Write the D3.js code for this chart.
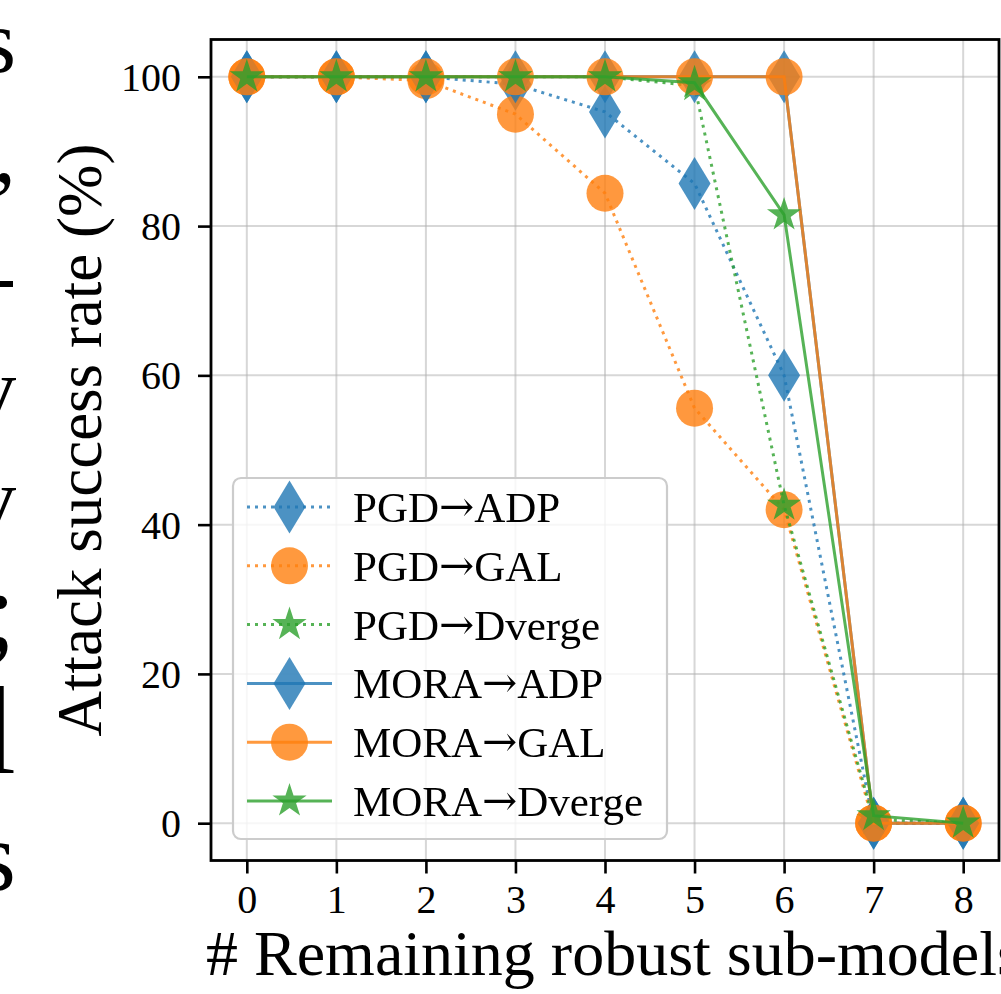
<!DOCTYPE html>
<html>
<head>
<meta charset="utf-8">
<script src="https://cdn.jsdelivr.net/npm/d3@7"></script>
<style>
  html, body { margin: 0; padding: 0; background: #fff; }
  svg { display: block; }
  text { font-family: "Liberation Serif", "DejaVu Serif", serif; }
</style>
</head>
<body>
<svg id="chart" width="1001" height="994"></svg>
<script>
// ---- data ----
const xValues = [0, 1, 2, 3, 4, 5, 6, 7, 8];
const pgdADP     = [100, 100, 100, 99, 95.3, 85.7, 60, 0, 0];
const pgdGAL     = [100, 100, 99.5, 95, 84.4, 55.6, 42, 0, 0];
const pgdDverge  = [100, 100, 100, 100, 100, 98.8, 42.6, 0.5, 0];
const moraADP    = [100, 100, 100, 100, 100, 100, 100, 0, 0];
const moraGAL    = [100, 100, 100, 100, 100, 100, 100, 0, 0];
const moraDverge = [100, 100, 100, 100, 100, 99.2, 81.5, 1, 0];
const attackNames = ["PGD", "PGD", "PGD", "MORA", "MORA", "MORA"];
const targetNames = ["ADP", "GAL", "Dverge", "ADP", "GAL", "Dverge"];
const xTicks = [0, 1, 2, 3, 4, 5, 6, 7, 8];
const yTicks = [0, 20, 40, 60, 80, 100];
const xLabel = "# Remaining robust sub-models";
const yLabel = "Attack success rate (%)";
const sideFragments = [
  { t: "s", y: 72, fs: 92 },
  { t: ",", y: 182, fs: 90 },
  { t: "-", y: 303, fs: 80 },
  { t: "v", y: 417, fs: 84 },
  { t: "v", y: 527, fs: 84 },
  { t: ";", y: 648, fs: 112 },
  { t: "l", y: 773, fs: 124 },
  { t: "s", y: 890, fs: 100 }
];

// ---- series config ----
const colors = { blue: "#1f77b4", orange: "#ff7f0e", green: "#2ca02c" };
const valuesList = [pgdADP, pgdGAL, pgdDverge, moraADP, moraGAL, moraDverge];
const colorList = [colors.blue, colors.orange, colors.green, colors.blue, colors.orange, colors.green];
const markerList = ["diamond", "circle", "star", "diamond", "circle", "star"];
const series = valuesList.map((v, i) => ({
  attack: attackNames[i], target: targetNames[i], values: v,
  color: colorList[i], marker: markerList[i], dotted: i < 3
}));

const svg = d3.select("#chart");
const W = 1001, H = 994;
svg.append("rect").attr("width", W).attr("height", H).attr("fill", "#fff");

const plot = { left: 211, right: 999, top: 39.5, bottom: 860.5 };
const x = d3.scaleLinear().domain([-0.4, 8.4]).range([plot.left, plot.right]);
const y = d3.scaleLinear().domain([-5, 105]).range([plot.bottom, plot.top]);

svg.append("clipPath").attr("id", "clip")
  .append("rect").attr("x", plot.left).attr("y", plot.top)
  .attr("width", plot.right - plot.left).attr("height", plot.bottom - plot.top);

// ---- grid ----
const grid = svg.append("g");
grid.selectAll(".gx").data(xTicks).enter().append("line")
  .attr("x1", d => x(d)).attr("x2", d => x(d))
  .attr("y1", plot.top).attr("y2", plot.bottom)
  .attr("stroke", "#b0b0b0").attr("stroke-opacity", 0.5).attr("stroke-width", 2);
grid.selectAll(".gy").data(yTicks).enter().append("line")
  .attr("y1", d => y(d)).attr("y2", d => y(d))
  .attr("x1", plot.left).attr("x2", plot.right)
  .attr("stroke", "#b0b0b0").attr("stroke-opacity", 0.5).attr("stroke-width", 2);

// ---- markers ----
function markerPath(type) {
  if (type === "diamond") {
    const h = 26.5, w = 16;
    return `M0,${-h}L${w},0L0,${h}L${-w},0Z`;
  }
  if (type === "circle") {
    const r = 18.5;
    return `M${r},0A${r},${r} 0 1,1 ${-r},0A${r},${r} 0 1,1 ${r},0Z`;
  }
  const R = 18, r = R * 0.381966;
  let p = "";
  for (let i = 0; i < 10; i++) {
    const rad = i % 2 === 0 ? R : r;
    const a = -Math.PI / 2 + i * Math.PI / 5;
    p += (i === 0 ? "M" : "L") + (rad * Math.cos(a)).toFixed(2) + "," + (rad * Math.sin(a)).toFixed(2);
  }
  return p + "Z";
}

const line = d3.line().x((d, i) => x(xValues[i])).y(d => y(d));
const dataLayer = svg.append("g").attr("clip-path", "url(#clip)");
series.forEach(s => {
  const g = dataLayer.append("g");
  g.append("path")
    .attr("d", line(s.values))
    .attr("fill", "none")
    .attr("stroke", s.color)
    .attr("stroke-opacity", 0.8)
    .attr("stroke-width", 3)
    .attr("stroke-dasharray", s.dotted ? "3,5" : null);
  const mg = g.append("g").attr("opacity", 0.8);
  mg.selectAll("path").data(s.values).enter().append("path")
    .attr("transform", (d, i) => `translate(${x(xValues[i])},${y(d)})`)
    .attr("d", markerPath(s.marker))
    .attr("fill", s.color);
});

// ---- axes ----
const xAxis = d3.axisBottom(x).tickValues(xTicks).tickSize(13).tickPadding(11).tickFormat(d3.format("d"));
const yAxis = d3.axisLeft(y).tickValues(yTicks).tickSize(13).tickPadding(17).tickFormat(d3.format("d"));
const gx = svg.append("g").attr("transform", `translate(0,${plot.bottom})`).call(xAxis);
const gy = svg.append("g").attr("transform", `translate(${plot.left},0)`).call(yAxis);
[gx, gy].forEach(g => {
  g.select(".domain").remove();
  g.selectAll(".tick line").attr("stroke", "#000").attr("stroke-width", 2.6);
  g.selectAll(".tick text").attr("fill", "#000").attr("font-size", 40)
    .attr("font-family", "'Liberation Serif', serif");
});
gx.selectAll(".tick text").attr("dy", "0.71em");
gy.selectAll(".tick text").attr("dy", "0.34em");

svg.append("rect")
  .attr("x", plot.left).attr("y", plot.top)
  .attr("width", plot.right - plot.left).attr("height", plot.bottom - plot.top)
  .attr("fill", "none").attr("stroke", "#000").attr("stroke-width", 2.8);

// axis labels
svg.append("text")
  .attr("x", 206).attr("y", 975)
  .attr("font-size", 64).attr("fill", "#000")
  .text(xLabel);
svg.append("text")
  .attr("transform", "translate(101,440) rotate(-90)")
  .attr("text-anchor", "middle")
  .attr("font-size", 63).attr("fill", "#000")
  .text(yLabel);

// ---- legend ----
const leg = { x: 233, y: 478, w: 434, h: 361 };
svg.append("rect")
  .attr("x", leg.x).attr("y", leg.y).attr("width", leg.w).attr("height", leg.h)
  .attr("rx", 8).attr("ry", 8)
  .attr("fill", "#fff").attr("fill-opacity", 0.8)
  .attr("stroke", "#cccccc").attr("stroke-width", 2.2);
const rowY = d3.scaleLinear().domain([0, 5]).range([507, 801]);
series.forEach((s, i) => {
  const cy = rowY(i);
  const g = svg.append("g");
  g.append("line")
    .attr("x1", 247).attr("x2", 332).attr("y1", cy).attr("y2", cy)
    .attr("stroke", s.color).attr("stroke-opacity", 0.8).attr("stroke-width", 3)
    .attr("stroke-dasharray", s.dotted ? "3,5" : null);
  g.append("path")
    .attr("transform", `translate(289.5,${cy})`)
    .attr("d", markerPath(s.marker))
    .attr("fill", s.color).attr("opacity", 0.8);
  const t = g.append("text")
    .attr("x", 353).attr("y", cy + 15)
    .attr("font-size", 43).attr("fill", "#000");
  t.append("tspan").text(s.attack);
  t.append("tspan").attr("font-family", "'DejaVu Serif', serif").attr("font-size", 42).attr("dy", -1).text("\u2192");
  t.append("tspan").attr("dy", 1).text(s.target);
});

// ---- text fragments on the left edge (page text cut off) ----
svg.append("g").selectAll("text").data(sideFragments).enter().append("text")
  .attr("x", 16).attr("y", d => d.y)
  .attr("text-anchor", "end")
  .attr("font-size", d => d.fs)
  .attr("fill", "#000")
  .text(d => d.t);
</script>
</body>
</html>
